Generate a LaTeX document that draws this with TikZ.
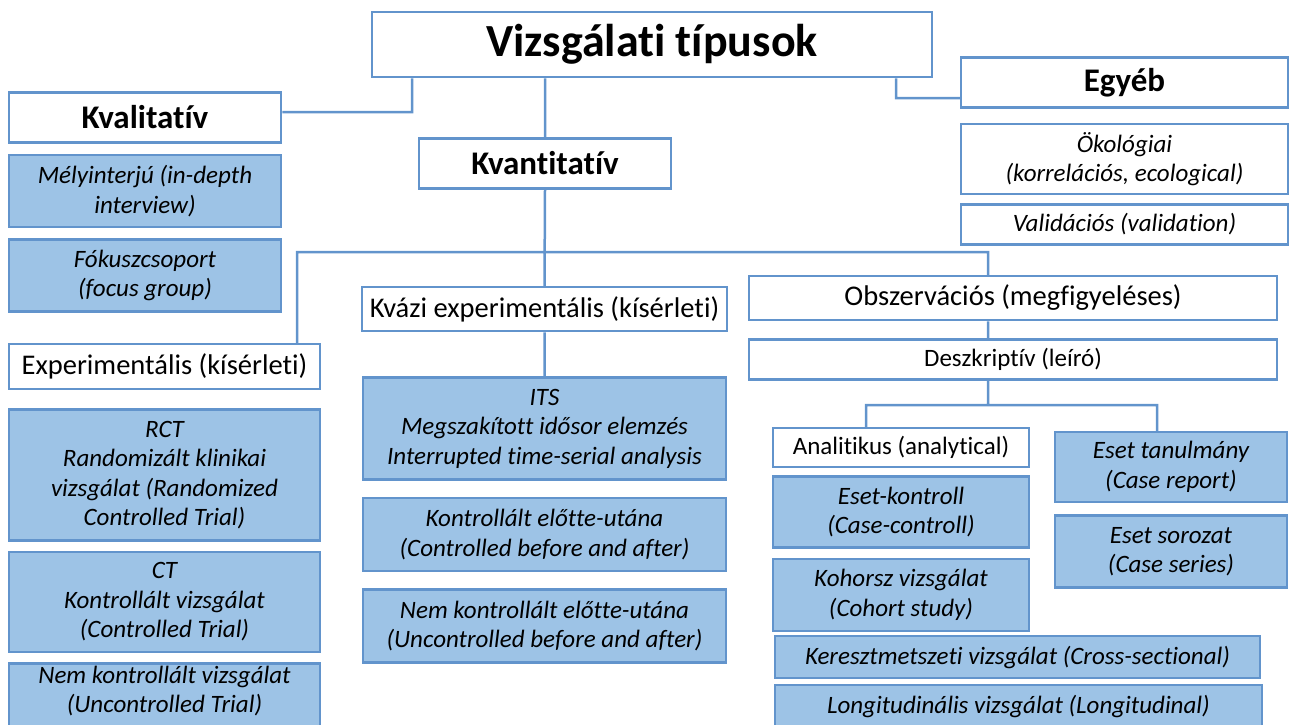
\documentclass[tikz,border=0pt]{standalone}
\usepackage{fontspec}
\setmainfont{Carlito}[Ligatures=NoCommon]
\usetikzlibrary{positioning}
\definecolor{edgeblue}{RGB}{98,148,204}
\definecolor{boxblue}{RGB}{157,195,230}
\begin{document}
\begin{tikzpicture}[x=1pt,y=-1pt,line width=2.5pt,
    every node/.style={draw=edgeblue,fill=white,align=center,inner sep=0pt},
    top node/.style={font=\fontsize{46}{56}\selectfont\bfseries,minimum width=560pt,minimum height=65pt},
    group node/.style={font=\fontsize{33}{40}\selectfont\bfseries,minimum height=50pt},
    type node/.style={font=\fontsize{28.5}{34}\selectfont,minimum height=44pt},
    plain study/.style={font=\fontsize{25}{29.5}\selectfont\itshape},
    study node/.style={plain study,fill=boxblue},
    link/.style={draw=edgeblue}]
    \useasboundingbox (0,0) rectangle (1293,724);
    % top level
    \node[top node] (title) at (652,44.5) {Vizsgálati típusok};
    \node[group node,minimum width=272pt] (kval) at (145,117.5) {Kvalitatív};
    \node[study node,minimum width=272pt,minimum height=72pt,below=10pt of kval] (mely) {Mélyinterjú (in-depth\\interview)};
    \node[study node,minimum width=272pt,minimum height=72pt,below=10pt of mely] (fokusz) {Fókuszcsoport\\(focus group)};
    \node[group node,minimum width=252pt] (kvant) at (545,163.5) {Kvantitatív};
    \node[group node,minimum width=327pt] (egyeb) at (1124.5,82.5) {Egyéb};
    \node[plain study,minimum width=327pt,minimum height=70pt,below=14pt of egyeb] (okol) {Ökológiai\\(korrelációs, ecological)};
    \node[plain study,minimum width=327pt,minimum height=40pt,below=8pt of okol] (valid) {Validációs (validation)};
    % kvantitativ branches
    \node[type node,minimum width=311pt,minimum height=45pt] (exper) at (164.5,366.5) {Experimentális (kísérleti)};
    \node[study node,minimum width=311pt,minimum height=131pt,below=18pt of exper] (rct) {RCT\\Randomizált klinikai\\vizsgálat (Randomized\\Controlled Trial)};
    \node[study node,minimum width=311pt,minimum height=100pt,below=9pt of rct] (ct) {CT\\Kontrollált vizsgálat\\(Controlled Trial)};
    \node[study node,minimum width=311pt,minimum height=71pt,text depth=19pt,below=9pt of ct] (nemviz) {Nem kontrollált vizsgálat\\(Uncontrolled Trial)};
    \node[type node,minimum width=365pt] (kvazi) at (544.5,309) {Kvázi experimentális (kísérleti)};
    \node[study node,minimum width=363pt,minimum height=102pt,below=44pt of kvazi] (its) {ITS\\Megszakított idősor elemzés\\Interrupted time-serial analysis};
    \node[study node,minimum width=363pt,minimum height=73pt,below=16pt of its] (kontr) {Kontrollált előtte-utána\\(Controlled before and after)};
    \node[study node,minimum width=363pt,minimum height=73pt,below=16pt of kontr] (nemkontr) {Nem kontrollált előtte-utána\\(Uncontrolled before and after)};
    \node[type node,minimum width=528pt] (obsz) at (1013,298) {Obszervációs (megfigyeléses)};
    \node[type node,font=\fontsize{25}{30}\selectfont,minimum width=528pt,minimum height=40pt,below=17pt of obsz] (desz) {Deszkriptív (leíró)};
    \node[type node,font=\fontsize{25}{30}\selectfont,minimum width=256pt,minimum height=39pt] (anal) at (901,447.5) {Analitikus (analytical)};
    \node[study node,minimum width=256pt,minimum height=71pt,below=7pt of anal] (esetk) {Eset-kontroll\\(Case-controll)};
    \node[study node,minimum width=256pt,minimum height=72pt,below=9pt of esetk] (kohorsz) {Kohorsz vizsgálat\\(Cohort study)};
    \node[study node,minimum width=232pt,minimum height=70pt] (esett) at (1171,467) {Eset tanulmány\\(Case report)};
    \node[study node,minimum width=232pt,minimum height=72pt,below=11pt of esett] (esets) {Eset sorozat\\(Case series)};
    \node[study node,minimum width=485pt,minimum height=42pt] (kereszt) at (1017.5,657) {Keresztmetszeti vizsgálat (Cross-sectional)};
    \node[study node,minimum width=487pt,minimum height=43pt] (longit) at (1018.5,706.5) {Longitudinális vizsgálat (Longitudinal)};
    % joints
    \coordinate (kvaljoint) at (412,112);
    \coordinate (egyebjoint) at (896,98);
    \coordinate (hubleft) at (297,252);
    \coordinate (hubright) at (988,252);
    \coordinate (deszjoint) at (988,405);
    \coordinate (analjoint) at (866,405);
    \coordinate (esetjoint) at (1157,405);
    \path[link]
    (title.south -| kvaljoint) |- (kval.east |- kvaljoint)
    (title.south -| egyebjoint) |- (egyeb.west |- egyebjoint)
    (title.south -| kvant.north) -- (kvant.north)
    (kvant.south) -- (kvazi.north)
    (hubleft |- exper.north) |- (hubright) -- (hubright |- obsz.north)
    (obsz.south -| hubright) -- (desz.north -| hubright)
    (desz.south -| deszjoint) -- (deszjoint)
    (anal.north -| analjoint) |- (esetjoint) -- (esetjoint |- esett.north)
    (kvazi.south) -- (its.north);
\end{tikzpicture}
\end{document}
